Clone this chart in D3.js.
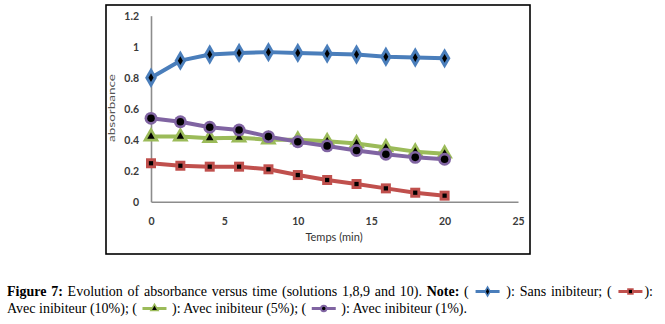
<!DOCTYPE html>
<html><head><meta charset="utf-8">
<script src="https://cdn.jsdelivr.net/npm/d3@7"></script>
<style>html,body{margin:0;padding:0;background:#fff;}svg{display:block;}
.cap{font-family:"Liberation Serif","Times New Roman","DejaVu Serif",serif;font-size:14px;white-space:pre;fill:#000;}
</style>
</head><body>
<svg id="c" width="665" height="324"></svg>
<script>
const times = [0, 2, 4, 6, 8, 10, 12, 14, 16, 18, 20];
const sansInhib = [0.80, 0.91, 0.95, 0.96, 0.965, 0.96, 0.955, 0.95, 0.935, 0.93, 0.925];
const inhib10 = [0.248, 0.232, 0.226, 0.226, 0.209, 0.172, 0.14, 0.114, 0.086, 0.058, 0.039];
const inhib5 = [0.42, 0.42, 0.41, 0.413, 0.40, 0.40, 0.39, 0.376, 0.35, 0.323, 0.31];
const inhib1 = [0.538, 0.516, 0.48, 0.463, 0.42, 0.387, 0.36, 0.33, 0.306, 0.286, 0.274];
const xTicks = [0, 5, 10, 15, 20, 25];
const yTicks = [0, 0.2, 0.4, 0.6, 0.8, 1, 1.2];
const seriesNames = ["Sans inibiteur", "Avec inibiteur (10%)", "Avec inibiteur (5%)", "Avec inibiteur (1%)"];
const seriesColors = ["#4a7ebb", "#c0504d", "#9bbb59", "#8064a2"];
const seriesShapes = ["diamond", "square", "triangle", "circle"];
const seriesValues = [sansInhib, inhib10, inhib5, inhib1];

const svg = d3.select("#c");
const x = d3.scaleLinear().domain([0, 25]).range([151, 518]);
const y = d3.scaleLinear().domain([0, 1.2]).range([201.7, 15.7]);

// frame
svg.append("rect").attr("x", 106).attr("y", 5).attr("width", 424).attr("height", 249)
  .attr("fill", "none").attr("stroke", "#000").attr("stroke-width", 1.6);

// axes
const gx = svg.append("g").attr("transform", "translate(0,201.7)")
  .call(d3.axisBottom(x).tickValues(xTicks).tickSize(0).tickPadding(16).tickFormat(d3.format("d")));
const gy = svg.append("g").attr("transform", "translate(151,0)")
  .call(d3.axisLeft(y).tickValues(yTicks).tickSize(0).tickPadding(12).tickFormat(d => d === 0 || d === 1 ? String(d) : d3.format(".1f")(d)));
[gx, gy].forEach(g => {
  g.select(".domain").attr("stroke", "#8c8c8c").attr("stroke-width", 1.6);
  g.selectAll("text").attr("font-family", "Lato, 'Open Sans', sans-serif").attr("font-size", 10.5)
    .attr("font-weight", "bold").attr("fill", "#3a3a3a");
});

svg.append("text").attr("x", 334).attr("y", 241).attr("text-anchor", "middle")
  .attr("font-family", "Lato, sans-serif").attr("font-size", 11).attr("fill", "#333").text("Temps (min)");
svg.append("text").attr("transform", "translate(115,108) rotate(-90)").attr("text-anchor", "middle")
  .attr("font-family", "Lato, sans-serif").attr("font-size", 8.5).attr("fill", "#555")
  .attr("textLength", 68).attr("lengthAdjust", "spacingAndGlyphs").text("absorbance");

const symType = {diamond: d3.symbolDiamond, square: d3.symbolSquare, triangle: d3.symbolTriangle, circle: d3.symbolCircle};
const outerSize = {diamond: 120, square: 100, triangle: 120, circle: 130};
const innerSize = {diamond: 22, square: 18, triangle: 24, circle: 45};

const line = d3.line().x(d => x(d[0])).y(d => y(d[1]));
const order = [1, 2, 3, 0];
order.forEach(i => {
  const data = times.map((t, j) => [t, seriesValues[i][j]]);
  const g = svg.append("g");
  g.append("path").datum(data).attr("d", line).attr("fill", "none")
    .attr("stroke", seriesColors[i]).attr("stroke-width", 4).attr("stroke-linejoin", "round");
  g.selectAll(".o").data(data).join("path")
    .attr("transform", d => `translate(${x(d[0])},${y(d[1])})`)
    .attr("d", d3.symbol().type(symType[seriesShapes[i]]).size(outerSize[seriesShapes[i]]))
    .attr("fill", seriesColors[i]);
  g.selectAll(".i").data(data).join("path")
    .attr("transform", d => `translate(${x(d[0])},${y(d[1])})`)
    .attr("d", d3.symbol().type(symType[seriesShapes[i]]).size(innerSize[seriesShapes[i]]))
    .attr("fill", "#000");
});

// caption
const ICON_W = 28;
function icon(px, baseline, i) {
  const cx0 = px + 2, w = ICON_W - 4, cy = baseline - 4.5;
  svg.append("line").attr("x1", cx0).attr("x2", cx0 + w).attr("y1", cy).attr("y2", cy)
    .attr("stroke", seriesColors[i]).attr("stroke-width", 3);
  svg.append("path").attr("transform", `translate(${cx0 + w / 2},${cy})`)
    .attr("d", d3.symbol().type(symType[seriesShapes[i]]).size(42)).attr("fill", seriesColors[i]);
  svg.append("path").attr("transform", `translate(${cx0 + w / 2},${cy})`)
    .attr("d", d3.symbol().type(symType[seriesShapes[i]]).size(10)).attr("fill", "#000");
  return ICON_W;
}
function captionLine(pieces, baseline, x0, x1) {
  let natural = 0, spaces = 0;
  pieces.forEach(p => {
    if (p.icon !== undefined) { natural += ICON_W; return; }
    const t = svg.append("text").attr("class", "cap").attr("x", 0).attr("y", -50)
      .attr("font-weight", p.bold ? "bold" : "normal").text(p.t);
    natural += t.node().getComputedTextLength();
    spaces += (p.t.match(/ /g) || []).length;
    t.remove();
  });
  const extra = x1 ? (x1 - x0 - natural) / spaces : 0;
  let cx = x0;
  pieces.forEach(p => {
    if (p.icon !== undefined) { cx += icon(cx, baseline, p.icon); return; }
    const t = svg.append("text").attr("class", "cap").attr("x", cx).attr("y", baseline)
      .attr("font-weight", p.bold ? "bold" : "normal").text(p.t);
    const nsp = (p.t.match(/ /g) || []).length;
    const base = t.node().getComputedTextLength();
    if (extra !== 0) t.attr("word-spacing", extra);
    cx += base + extra * nsp;
  });
}
captionLine([
  {t: "Figure 7:", bold: true},
  {t: " Evolution of absorbance versus time (solutions 1,8,9 and 10). "},
  {t: "Note:", bold: true},
  {t: " ( "}, {icon: 0}, {t: " ): " + seriesNames[0] + "; ( "}, {icon: 1}, {t: "):"}
], 296, 7, 653);
captionLine([
  {t: seriesNames[1] + "; ( "}, {icon: 2}, {t: " ): " + seriesNames[2] + "; ( "}, {icon: 3}, {t: " ): " + seriesNames[3] + "."}
], 313, 7, null);
</script>
</body></html>
